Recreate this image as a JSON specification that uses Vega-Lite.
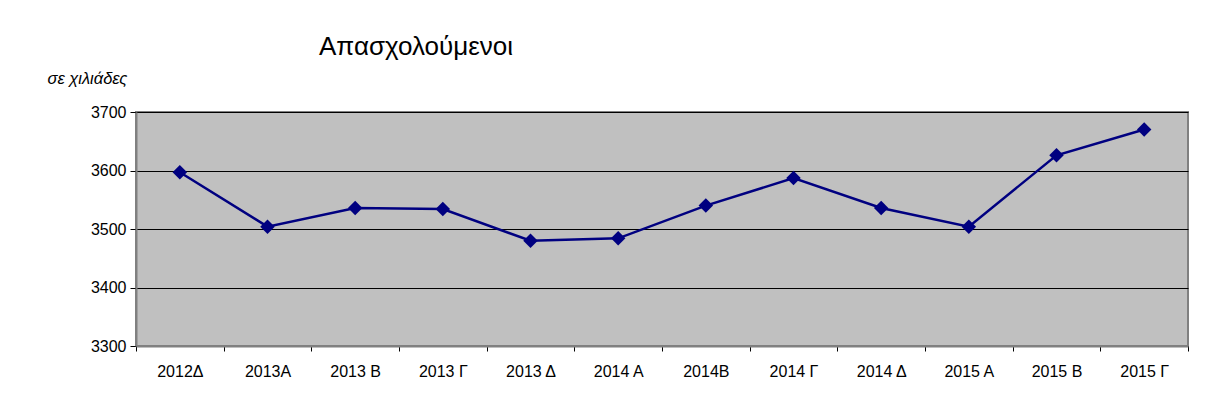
{
  "$schema": "https://vega.github.io/schema/vega-lite/v6.json",
  "width": 1052,
  "height": 234,
  "autosize": {"type": "none"},
  "padding": {"left": 136, "top": 112, "right": 21, "bottom": 57},
  "background": "white",
  "title": {
    "text": "Απασχολούμενοι",
    "anchor": "start",
    "dx": 272,
    "offset": 10,
    "font": "Liberation Sans",
    "fontSize": 26,
    "fontWeight": "normal",
    "color": "black"
  },
  "data": {
    "values": [
      {"q": "2012Δ", "v": 3597},
      {"q": "2013A", "v": 3504},
      {"q": "2013 B", "v": 3536},
      {"q": "2013 Γ", "v": 3534},
      {"q": "2013 Δ", "v": 3480},
      {"q": "2014 A", "v": 3484},
      {"q": "2014B", "v": 3540},
      {"q": "2014 Γ", "v": 3587},
      {"q": "2014 Δ", "v": 3536},
      {"q": "2015 A", "v": 3504},
      {"q": "2015 B", "v": 3626},
      {"q": "2015 Γ", "v": 3670}
    ]
  },
  "encoding": {
    "x": {
      "field": "q",
      "type": "nominal",
      "sort": null,
      "scale": {"type": "band", "paddingInner": 0, "paddingOuter": 0},
      "axis": {
        "title": null,
        "labelAngle": 0,
        "tickBand": "extent",
        "labelFont": "Liberation Sans",
        "labelFontSize": 16,
        "labelColor": "black",
        "labelPadding": 12,
        "tickColor": "black",
        "tickSize": 5,
        "domainColor": "#808080",
        "domainWidth": 2,
        "grid": false
      }
    },
    "y": {
      "field": "v",
      "type": "quantitative",
      "scale": {"domain": [3300, 3700], "nice": false, "zero": false},
      "axis": {
        "title": "σε χιλιάδες",
        "titleAngle": 0,
        "titleAlign": "left",
        "titleBaseline": "middle",
        "titleX": -89,
        "titleY": -34,
        "titleFont": "Liberation Sans",
        "titleFontSize": 16.5,
        "titleFontStyle": "italic",
        "titleFontWeight": "normal",
        "titleColor": "black",
        "values": [3300, 3400, 3500, 3600, 3700],
        "format": "d",
        "labelFont": "Liberation Sans",
        "labelFontSize": 16,
        "labelColor": "black",
        "labelPadding": 4,
        "tickColor": "black",
        "tickSize": 6,
        "domainColor": "#808080",
        "domainWidth": 2,
        "grid": true,
        "gridColor": "black",
        "gridWidth": 1,
        "gridOpacity": 1
      }
    }
  },
  "layer": [
    {"mark": {"type": "line", "color": "#000080", "strokeWidth": 2.5}},
    {"mark": {"type": "point", "shape": "diamond", "size": 210, "filled": true, "color": "#000080", "opacity": 1}}
  ],
  "config": {
    "view": {"fill": "#C0C0C0", "stroke": "#808080", "strokeWidth": 2}
  }
}
